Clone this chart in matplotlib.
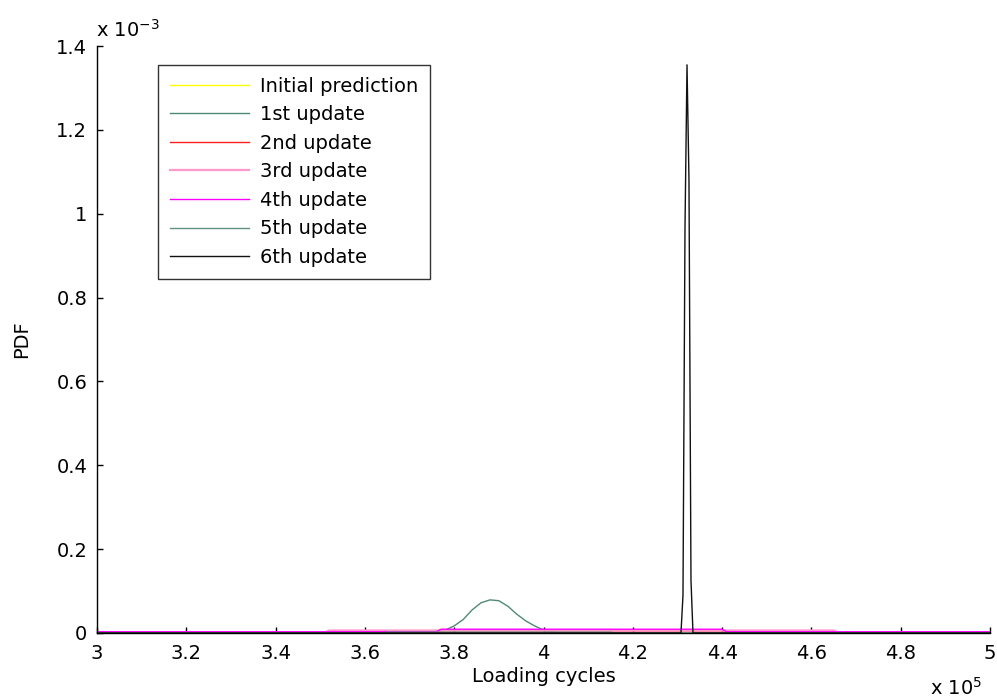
import matplotlib
matplotlib.use("Agg")
import matplotlib.pyplot as plt

plt.rcParams['font.family'] = ['DejaVu Sans']

# Loading cycles in units of 1e5, PDF values in units of 1e-3
x_init = [3.0, 5.0]
y_init = [0.001, 0.001]

x_upd1 = [3.0, 3.74, 3.76, 3.78, 3.80, 3.82, 3.84, 3.86, 3.88, 3.90, 3.92,
          3.94, 3.96, 3.98, 4.00, 4.02, 4.04, 5.0]
y_upd1 = [0.0, 0.0, 0.002, 0.007, 0.017, 0.032, 0.055, 0.072, 0.079, 0.077,
          0.064, 0.045, 0.029, 0.017, 0.007, 0.002, 0.0, 0.0]

x_upd2 = [3.0, 3.51, 3.52, 4.65, 4.66, 5.0]
y_upd2 = [0.001, 0.001, 0.005, 0.005, 0.001, 0.001]

x_upd3 = [3.0, 3.51, 3.52, 4.65, 4.66, 5.0]
y_upd3 = [0.001, 0.001, 0.006, 0.006, 0.001, 0.001]

x_upd4 = [3.0, 3.76, 3.77, 4.40, 4.41, 5.0]
y_upd4 = [0.003, 0.003, 0.009, 0.009, 0.003, 0.003]

x_upd5 = [3.0, 3.64, 3.65, 4.15, 4.16, 5.0]
y_upd5 = [0.0, 0.0, 0.002, 0.002, 0.0, 0.0]

x_upd6 = [3.0, 4.3079, 4.3124, 4.3169, 4.3214, 4.3258, 4.3303, 4.3348, 5.0]
y_upd6 = [0.0, 0.0, 0.09, 0.966, 1.355, 1.081, 0.126, 0.0, 0.0]

labels = ['Initial prediction', '1st update', '2nd update', '3rd update',
          '4th update', '5th update', '6th update']
colors = ['#ffff00', '#4f8a72', '#ff2020', '#ff99cc', '#ff00ff', '#5f9080', '#111111']
widths = [1.0, 1.0, 1.0, 1.6, 1.0, 1.0, 1.0]

series = [(x_init, y_init), (x_upd1, y_upd1), (x_upd2, y_upd2), (x_upd3, y_upd3),
          (x_upd4, y_upd4), (x_upd5, y_upd5), (x_upd6, y_upd6)]

FS = 14

fig = plt.figure(figsize=(9.97, 6.98), dpi=100)
ax = fig.add_axes([97/997, 65/698, 893/997, 587/698])

for (xs, ys), lab, c, w in zip(series, labels, colors, widths):
    ax.plot(xs, ys, color=c, lw=w, label=lab)

ax.set_xlim(3.0, 5.0)
ax.set_ylim(0.0, 1.4)
ax.set_xticks([3, 3.2, 3.4, 3.6, 3.8, 4, 4.2, 4.4, 4.6, 4.8, 5])
ax.set_xticklabels(['3', '3.2', '3.4', '3.6', '3.8', '4', '4.2', '4.4', '4.6', '4.8', '5'])
ax.set_yticks([0, 0.2, 0.4, 0.6, 0.8, 1.0, 1.2, 1.4])
ax.set_yticklabels(['0', '0.2', '0.4', '0.6', '0.8', '1', '1.2', '1.4'])
ax.tick_params(direction='in', length=4, width=1, labelsize=FS, colors='black')
ax.tick_params(axis='x', pad=8)
ax.tick_params(axis='y', pad=7)
ax.spines['top'].set_visible(False)
ax.spines['right'].set_visible(False)
for s in ('left', 'bottom'):
    ax.spines[s].set_linewidth(1.0)

ax.set_xlabel('Loading cycles', fontsize=FS, labelpad=3)
ax.set_ylabel('PDF', fontsize=FS, labelpad=18)

fig.text(96/997, 1 - 30/698, r'x 10$^{\mathregular{-3}}$', fontsize=FS,
         ha='left', va='center')
fig.text(930/997, 1 - 688/698, r'x 10$^{\mathregular{5}}$', fontsize=FS,
         ha='left', va='center')

leg = ax.legend(loc='upper left', bbox_to_anchor=(158/997, 1 - 65/698),
                bbox_transform=fig.transFigure, fontsize=FS, frameon=True,
                fancybox=False, handlelength=4.07, handletextpad=0.6,
                labelspacing=0.49, borderpad=0.6, borderaxespad=0)
leg.get_frame().set_edgecolor('black')
leg.get_frame().set_linewidth(1.0)

fig.savefig('out.png', dpi=100)
